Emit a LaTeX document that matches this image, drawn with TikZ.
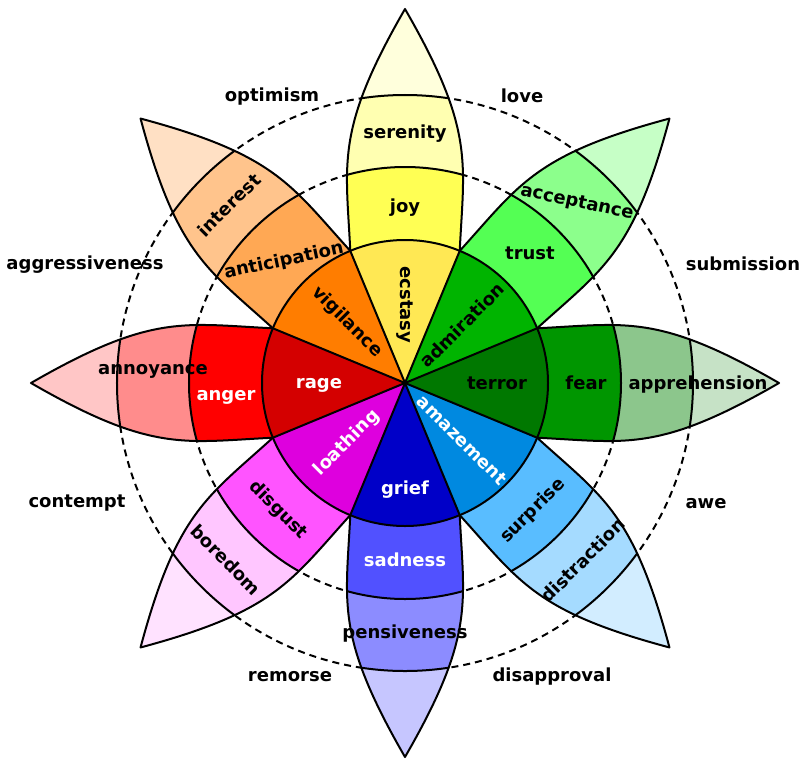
\documentclass[tikz,border=0pt]{standalone}
\usepackage{fontspec}
\setmainfont{DejaVu Sans}
\definecolor{tipFear}{HTML}{C6E2C6}
\definecolor{cApprehension}{HTML}{8CC68C}
\definecolor{cFear}{HTML}{009600}
\definecolor{cTerror}{HTML}{007800}
\definecolor{tipTrust}{HTML}{C6FFC6}
\definecolor{cAcceptance}{HTML}{8CFF8C}
\definecolor{cTrust}{HTML}{54FF54}
\definecolor{cAdmiration}{HTML}{00B400}
\definecolor{tipJoy}{HTML}{FFFFDC}
\definecolor{cSerenity}{HTML}{FFFFB1}
\definecolor{cJoy}{HTML}{FFFF54}
\definecolor{cEcstasy}{HTML}{FFE854}
\definecolor{tipAnt}{HTML}{FFE0C4}
\definecolor{cInterest}{HTML}{FFC48C}
\definecolor{cAnticipation}{HTML}{FFA854}
\definecolor{cVigilance}{HTML}{FF7D00}
\definecolor{tipAnger}{HTML}{FFC6C6}
\definecolor{cAnnoyance}{HTML}{FF8C8C}
\definecolor{cAnger}{HTML}{FF0000}
\definecolor{cRage}{HTML}{D40000}
\definecolor{tipDisgust}{HTML}{FFE2FF}
\definecolor{cBoredom}{HTML}{FFC6FF}
\definecolor{cDisgust}{HTML}{FF54FF}
\definecolor{cLoathing}{HTML}{DE00DE}
\definecolor{tipSad}{HTML}{C6C6FF}
\definecolor{cPensiveness}{HTML}{8C8CFF}
\definecolor{cSadness}{HTML}{5151FF}
\definecolor{cGrief}{HTML}{0000C8}
\definecolor{tipSurprise}{HTML}{D2EDFF}
\definecolor{cDistraction}{HTML}{A5DBFF}
\definecolor{cSurprise}{HTML}{59BDFF}
\definecolor{cAmazement}{HTML}{0089E0}
\begin{document}
\begin{tikzpicture}[x=0.75pt,y=0.75pt,line width=1.5pt,line join=round,
  lab/.style={font=\fontsize{13.5}{16}\selectfont\bfseries,inner sep=0pt},
  wlab/.style={lab,text=white},
  guide/.style={dash pattern=on 5.25pt off 3.75pt}]
\useasboundingbox (-405,-385) rectangle (407,383);
% dashed guide circles
\draw[guide] (0,0) circle (216);
\draw[guide] (0,0) circle (288);
% petals
\foreach \a/\ct/\cc/\cb/\cn in {0/tipFear/cApprehension/cFear/cTerror,
  45/tipTrust/cAcceptance/cTrust/cAdmiration,
  90/tipJoy/cSerenity/cJoy/cEcstasy,
  135/tipAnt/cInterest/cAnticipation/cVigilance,
  180/tipAnger/cAnnoyance/cAnger/cRage,
  225/tipDisgust/cBoredom/cDisgust/cLoathing,
  270/tipSad/cPensiveness/cSadness/cGrief,
  315/tipSurprise/cDistraction/cSurprise/cAmazement}{
  \begin{scope}[rotate=\a]
    \begin{scope}
      \clip (132.11,54.72) .. controls (221,59) and (252.8,70) .. (374,0)
        .. controls (252.8,-70) and (221,-59) .. (132.11,-54.72)
        arc[start angle=-22.5,end angle=22.5,radius=143] -- cycle;
      \fill[\ct] (0,0) circle (390);
      \fill[\cc] (0,0) circle (288);
      \fill[\cb] (0,0) circle (216);
      \draw (0,0) circle (216);
      \draw (0,0) circle (288);
    \end{scope}
    \draw (132.11,54.72) .. controls (221,59) and (252.8,70) .. (374,0)
        .. controls (252.8,-70) and (221,-59) .. (132.11,-54.72);
    \fill[\cn] (0,0) -- (-22.5:143) arc[start angle=-22.5,end angle=22.5,radius=143] -- cycle;
  \end{scope}
}
% core outlines
\draw (0,0) circle (143);
\foreach \a in {22.5,67.5,...,337.5}{\draw (0,0) -- (\a:143);}
% outer labels
\node[lab] (optimism) at (-133,286.5) {optimism};
\node[lab] (love) at (117,287.5) {love};
\node[lab] (aggressiveness) at (-320,118.5) {aggressiveness};
\node[lab] (submission) at (338,119.5) {submission};
\node[lab] (contempt) at (-328,-120.5) {contempt};
\node[lab] (awe) at (301,-120.5) {awe};
\node[lab] (remorse) at (-115,-293.5) {remorse};
\node[lab] (disapproval) at (147,-293.5) {disapproval};
% petal labels
\node[lab] (serenity) at (0,249.5) {serenity};
\node[lab] (joy) at (0,175) {joy};
\node[lab,rotate=-90] (ecstasy) at (0,78) {ecstasy};
\node[lab,rotate=45] (interest) at (-176,178) {interest};
\node[lab,rotate=12] (anticipation) at (-121,122) {anticipation};
\node[lab,rotate=-45] (vigilance) at (-58,61) {vigilance};
\node[lab] (trust) at (125,130) {trust};
\node[lab,rotate=-12] (acceptance) at (172,180) {acceptance};
\node[lab,rotate=45] (admiration) at (57,58) {admiration};
\node[lab] (terror) at (92,0) {terror};
\node[lab] (fear) at (181,0) {fear};
\node[lab] (apprehension) at (293,-2) {apprehension};
\node[wlab,rotate=-45] (amazement) at (57,-57) {amazement};
\node[lab,rotate=45] (surprise) at (128,-128) {surprise};
\node[lab,rotate=45] (distraction) at (178,-177) {distraction};
\node[wlab] (grief) at (0,-107) {grief};
\node[wlab] (sadness) at (0,-176.5) {sadness};
\node[lab] (pensiveness) at (0,-251) {pensiveness};
\node[wlab,rotate=45] (loathing) at (-58,-60) {loathing};
\node[lab,rotate=-45] (disgust) at (-127,-127) {disgust};
\node[lab,rotate=-45] (boredom) at (-179,-177) {boredom};
\node[wlab] (rage) at (-86,-2.5) {rage};
\node[wlab] (anger) at (-179,-14) {anger};
\node[lab] (annoyance) at (-252,12) {annoyance};
\end{tikzpicture}
\end{document}
